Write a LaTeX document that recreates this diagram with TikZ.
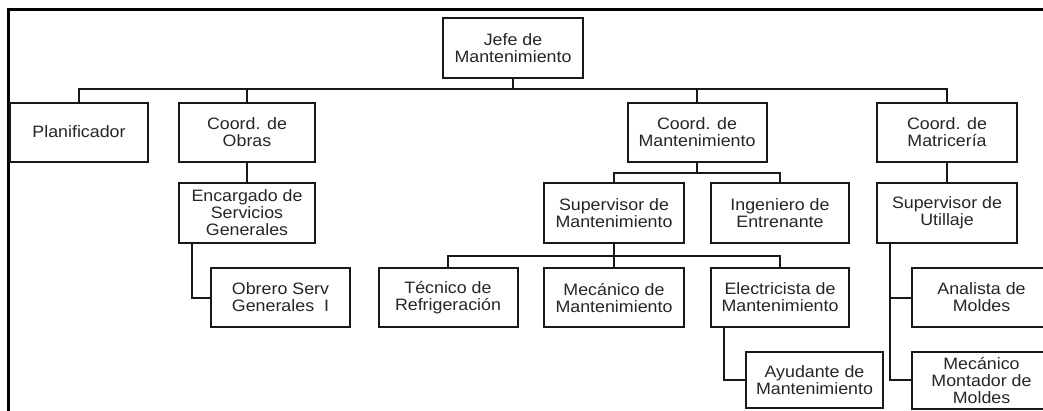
\documentclass[tikz,border=0pt]{standalone}
\usepackage{fontspec}
\setmainfont{Liberation Sans}[FakeStretch=1.08]
\begin{document}
\begin{tikzpicture}[x=1pt,y=-1pt,
  box/.style={draw=black!90, line width=2pt, align=center, inner sep=0pt,
    minimum width=#1, minimum height=59pt,
    font=\fontsize{16.5pt}{17pt}\selectfont, text=black!85},
  box/.default=139pt,
  conn/.style={draw=black!90, line width=2pt},
  frame/.style={draw=black, line width=3pt}]
\useasboundingbox (0,0) rectangle (1043,410);
\clip (0,0) rectangle (1043,410);
\fill[white] (0,0) rectangle (1043,410);
% frame
\draw[frame] (8,420) -- (8,9) -- (1060,9);
% nodes
\node[box=140pt, minimum height=60pt] (jefe) at (513,48) {Jefe de\\Mantenimiento};
\node[box=138pt] (plan) at (79,132) {Planificador};
\node[box=136pt] (cobras) at (247,132) {Coord. de\\Obras};
\node[box=136pt, minimum height=60pt] (encarg) at (247,213) {Encargado de\\Servicios\\Generales};
\node[box] (obrero) at (280.5,297.5) {Obrero Serv\\Generales\ \ I};
\node[box] (tecnico) at (448,297.5) {Técnico de\\Refrigeración};
\node[box] (cmant) at (697,132) {Coord. de\\Mantenimiento};
\node[box=140pt] (cmatr) at (947,132) {Coord. de\\Matricería};
\node[box=140pt, minimum height=60pt] (supmant) at (614,213) {Supervisor de\\Mantenimiento};
\node[box=138pt, minimum height=60pt] (ing) at (780,213) {Ingeniero de\\Entrenante};
\node[box=140pt, minimum height=60pt] (suputil) at (947,213) {Supervisor de\\Utillaje};
\node[box=140pt] (mecmant) at (614,297.5) {Mecánico de\\Mantenimiento};
\node[box=138pt] (elec) at (780,297.5) {Electricista de\\Mantenimiento};
\node[box=137pt, minimum height=56pt] (ayud) at (814.5,380) {Ayudante de\\Mantenimiento};
\node[box] (analista) at (981.5,297.5) {Analista de\\Moldes};
\node[box, minimum height=57pt] (mecmont) at (981.5,380) {Mecánico\\Montador de\\Moldes};
% connectors
\coordinate (bus1) at (513,89);
\coordinate (bus2) at (697,173);
\coordinate (bus3) at (614,256);
\draw[conn] (jefe.south) -- (bus1);
\draw[conn] (plan.north) |- (bus1) -| (cmatr.north);
\draw[conn] (cobras.north) |- (bus1);
\draw[conn] (cmant.north) |- (bus1);
\draw[conn] (cobras.south) -- (encarg.north);
\draw[conn] ([xshift=14pt]encarg.south west) |- (obrero.west);
\draw[conn] (cmant.south) -- (bus2);
\draw[conn] (supmant.north) |- (bus2) -| (ing.north);
\draw[conn] (cmatr.south) -- (suputil.north);
\draw[conn] (supmant.south) -- (mecmant.north);
\draw[conn] (tecnico.north) |- (bus3) -| (elec.north);
\draw[conn] ([xshift=14pt]elec.south west) |- (ayud.west);
\draw[conn] ([xshift=14pt]suputil.south west) |- (mecmont.west);
\draw[conn] ([xshift=14pt]suputil.south west) |- (analista.west);
\end{tikzpicture}
\end{document}
